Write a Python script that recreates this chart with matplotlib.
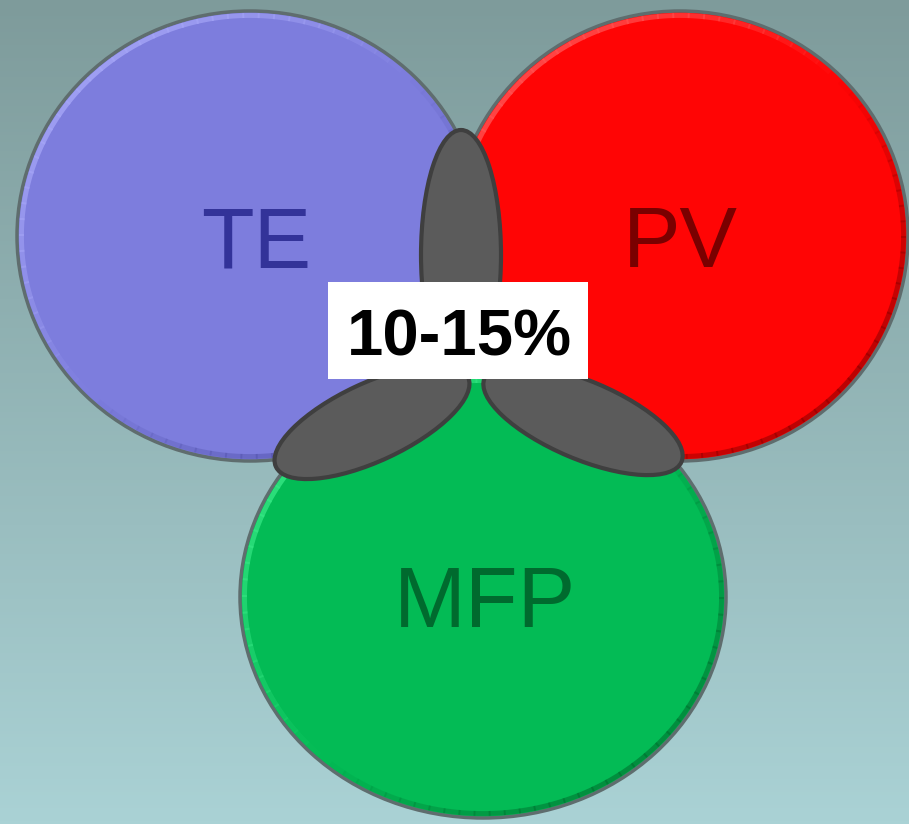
import numpy as np
import matplotlib.pyplot as plt
from matplotlib.patches import Ellipse, Arc, Rectangle
from matplotlib.colors import to_rgb

# --- circles (drawn in this order: TE, PV, MFP on top)
names = ["TE", "PV", "MFP"]
centers = [(250, 236), (680, 236), (483, 597)]
radii = [(233, 225), (228, 225), (243, 221)]
fills = ["#7d7ddd", "#ff0505", "#03bb55"]
lights = ["#a4a4f6", "#ff5050", "#34e683"]
darks = ["#4e4ea6", "#8e0000", "#00702f"]
text_cols = ["#333399", "#7a0000", "#006a2e"]
label_base = [(256, 267), (680, 267), (485, 627)]  # baseline positions

# --- overlap petals: (center, length, width, angle)
petal_c = [(461, 255), (372, 422), (583, 420)]
petal_len = [250, 212, 214]
petal_w = [80, 78, 78]
petal_ang = [90, -25, 23]

overlap_txt = "10-15%"

W, H = 909, 824
fig = plt.figure(figsize=(W / 100, H / 100), dpi=100)
ax = fig.add_axes([0, 0, 1, 1])
ax.set_xlim(0, W)
ax.set_ylim(H, 0)
ax.axis("off")

# background gradient, top to bottom
top = np.array(to_rgb("#7e9b9b"))
bot = np.array(to_rgb("#aad2d5"))
t = np.linspace(0, 1, 256)[:, None, None]
grad = top * (1 - t) + bot * t
grad = np.repeat(grad, 2, axis=1)
ax.imshow(grad, extent=[0, W, H, 0], aspect="auto", zorder=0)

step = 4
for i in range(3):
    cx, cy = centers[i]
    rx, ry = radii[i]
    z = 1 + i
    ax.add_patch(Ellipse((cx, cy), 2 * rx, 2 * ry, facecolor=fills[i],
                         edgecolor="#5f6d6e", lw=2.5, zorder=z))
    # bevel rim: light toward top-left, dark toward bottom-right
    for th in range(0, 360, step):
        w = np.cos(np.radians(th + step / 2 - 225))
        if abs(w) < 0.05:
            continue
        col = lights[i] if w > 0 else darks[i]
        a = 0.85 * w if w > 0 else 0.6 * -w
        ax.add_patch(Arc((cx, cy), 2 * rx - 9, 2 * ry - 9, theta1=th, theta2=th + step + 0.5,
                         color=col, lw=3.5, alpha=a, zorder=z, capstyle="butt"))
    ax.text(label_base[i][0], label_base[i][1], names[i], color=text_cols[i],
            fontsize=62, family="Liberation Sans", ha="center", va="baseline",
            zorder=z)

for i in range(3):
    ax.add_patch(Ellipse(petal_c[i], petal_len[i], petal_w[i], angle=petal_ang[i],
                         facecolor="#5b5b5b", edgecolor="#3f3f3f", lw=3, zorder=5))

ax.add_patch(Rectangle((328, 282), 260, 97, facecolor="white", edgecolor="none", zorder=6))
ax.text(459, 355, overlap_txt, fontsize=47, fontweight="bold", family="Liberation Sans",
        ha="center", va="baseline", color="black", zorder=7)

fig.savefig("out.png", dpi=100)
